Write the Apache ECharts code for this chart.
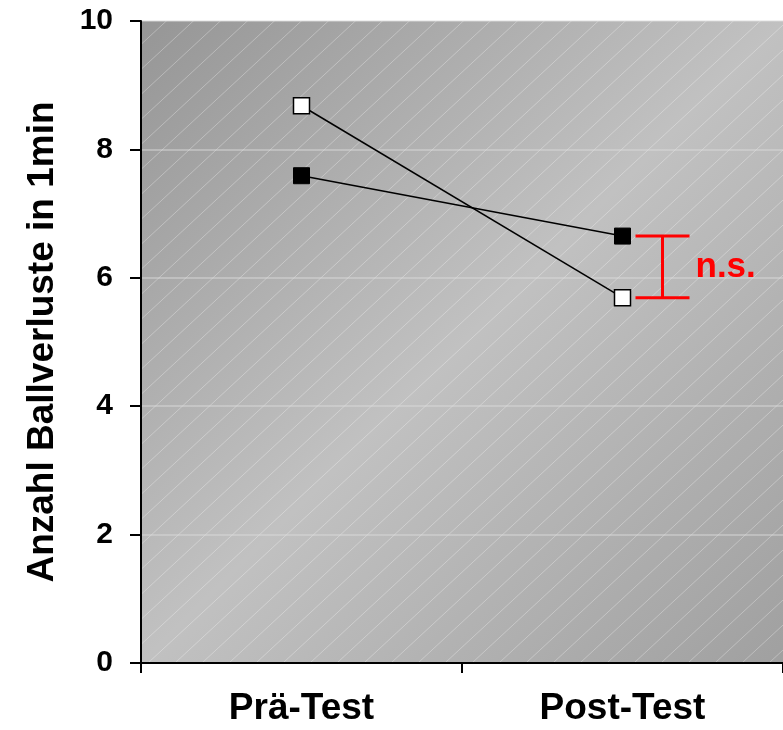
<!DOCTYPE html>
<html>
<head>
<meta charset="utf-8">
<script src="https://cdn.jsdelivr.net/npm/echarts@6/dist/echarts.min.js"></script>
<style>
  html, body { margin: 0; padding: 0; background: #fff; }
  #main { width: 783px; height: 730px; }
</style>
</head>
<body>
<div id="main"></div>
<script>
  // categories and values
  var categories = ['Prä-Test', 'Post-Test'];
  var openSquares = [8.68, 5.69];   // white markers
  var filledSquares = [7.59, 6.65]; // black markers
  var yTicks = [0, 2, 4, 6, 8, 10];
  var bracketLabel = 'n.s.';
  var axisTitle = 'Anzahl Ballverluste in 1min';

  var font = '"Liberation Sans", Arial, sans-serif';

  /*---- hatch tile ----*/
  function hatchTile() {
    var w = 27, h = 25;
    var c = document.createElement('canvas');
    c.width = w; c.height = h;
    var g = c.getContext('2d');
    g.strokeStyle = 'rgba(255,255,255,0.3)';
    g.lineWidth = 1;
    [[-w, 0], [0, 0], [w, 0]].forEach(function (o) {
      g.beginPath();
      g.moveTo(o[0], h + o[1]);
      g.lineTo(o[0] + w, o[1]);
      g.stroke();
    });
    return c;
  }

  var gridPos = { left: 141, right: 0, top: 21, bottom: 67 };

  var chart = echarts.init(document.getElementById('main'));

  var option = {
    animation: false,
    grid: [
      Object.assign({
        show: true,
        borderWidth: 0,
        backgroundColor: {
          type: 'linear', x: 0, y: 0, x2: 1, y2: 1,
          colorStops: [
            { offset: 0, color: '#969696' },
            { offset: 0.5, color: '#c1c1c1' },
            { offset: 1, color: '#a0a0a0' }
          ]
        }
      }, gridPos),
      Object.assign({
        show: true,
        borderWidth: 0,
        backgroundColor: { image: hatchTile(), repeat: 'repeat' }
      }, gridPos)
    ],
    xAxis: [{
      type: 'category',
      data: categories,
      gridIndex: 0,
      boundaryGap: true,
      axisLine: { lineStyle: { color: '#000', width: 2 } },
      axisTick: { show: true, length: 10, lineStyle: { color: '#000', width: 2 } },
      axisLabel: {
        margin: 27,
        color: '#000',
        fontFamily: font,
        fontWeight: 'bold',
        fontSize: 37
      },
      splitLine: { show: false }
    }, {
      type: 'category', data: categories, gridIndex: 1, show: false
    }],
    yAxis: [{
      type: 'value',
      gridIndex: 0,
      min: yTicks[0],
      max: yTicks[yTicks.length - 1],
      interval: 2,
      name: axisTitle,
      nameLocation: 'middle',
      nameGap: 80,
      nameRotate: 90,
      nameTextStyle: {
        color: '#000',
        fontFamily: font,
        fontWeight: 'bold',
        fontSize: 37
      },
      axisLine: { show: true, lineStyle: { color: '#000', width: 2 } },
      axisTick: { show: true, length: 11, lineStyle: { color: '#000', width: 2 } },
      axisLabel: {
        margin: 28,
        color: '#000',
        fontFamily: font,
        fontWeight: 'bold',
        fontSize: 30
      },
      splitLine: { show: true, lineStyle: { color: 'rgba(220,220,220,0.45)', width: 2 } }
    }, {
      type: 'value', gridIndex: 1, min: 0, max: 10, show: false
    }],
    series: [
      {
        name: 'open',
        type: 'line',
        data: openSquares,
        symbol: 'rect',
        symbolSize: 16,
        lineStyle: { color: '#000', width: 1.5 },
        itemStyle: { color: '#fff', borderColor: '#000', borderWidth: 1.5 },
        z: 3
      },
      {
        name: 'filled',
        type: 'line',
        data: filledSquares,
        symbol: 'rect',
        symbolSize: 16,
        lineStyle: { color: '#000', width: 1.5 },
        itemStyle: { color: '#000', borderColor: '#000', borderWidth: 1 },
        z: 3
      },
      {
        // significance bracket next to the Post-Test markers
        type: 'custom',
        data: [[1, filledSquares[1], openSquares[1]]],
        z: 4,
        silent: true,
        renderItem: function (params, api) {
          var hi = api.coord([api.value(0), api.value(1)]);
          var lo = api.coord([api.value(0), api.value(2)]);
          var x = hi[0] + 40;
          var half = 27;
          var st = { stroke: '#ff0000', lineWidth: 3 };
          return {
            type: 'group',
            children: [
              { type: 'line', shape: { x1: x, y1: hi[1], x2: x, y2: lo[1] }, style: st },
              { type: 'line', shape: { x1: x - half, y1: hi[1], x2: x + half, y2: hi[1] }, style: st },
              { type: 'line', shape: { x1: x - half, y1: lo[1], x2: x + half, y2: lo[1] }, style: st },
              {
                type: 'text',
                x: x + 33,
                y: (hi[1] + lo[1]) / 2,
                style: {
                  text: bracketLabel,
                  fill: '#ff0000',
                  font: 'bold 35px ' + font,
                  align: 'left',
                  verticalAlign: 'middle'
                }
              }
            ]
          };
        }
      }
    ]
  };

  chart.setOption(option);
</script>
</body>
</html>
